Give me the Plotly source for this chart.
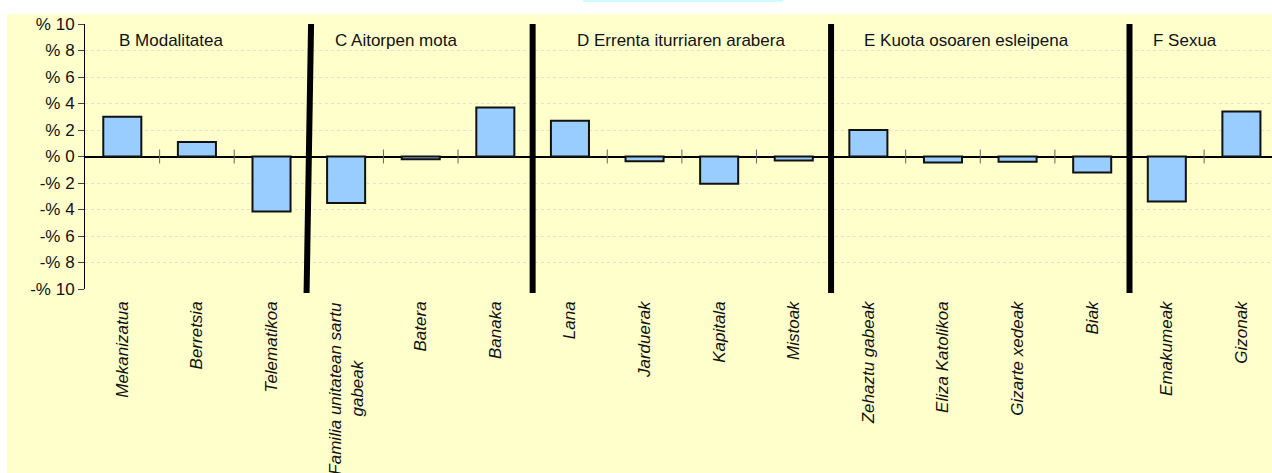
import plotly.graph_objects as go

# Categories per group and their percentage differences
categories = [
    "Mekanizatua", "Berretsia", "Telematikoa",
    "Familia unitatean sartu<br>gabeak", "Batera", "Banaka",
    "Lana", "Jarduerak", "Kapitala", "Mistoak",
    "Zehaztu gabeak", "Eliza Katolikoa", "Gizarte xedeak", "Biak",
    "Emakumeak", "Gizonak",
]
values = [3.0, 1.1, -4.15, -3.5, -0.2, 3.7, 2.7, -0.35, -2.05, -0.3,
          2.0, -0.45, -0.4, -1.2, -3.4, 3.4]

group_titles = ["B Modalitatea", "C Aitorpen mota", "D Errenta iturriaren arabera",
                "E Kuota osoaren esleipena", "F Sexua"]
group_sizes = [3, 3, 4, 4, 2]

y_ticks = list(range(-10, 11, 2))
y_tick_labels = [f"-% {abs(v)}" if v < 0 else f"% {v}" for v in y_ticks]

FONT = "Liberation Sans, Arial, sans-serif"
x_pos = list(range(len(categories)))

# group boundaries and the minor boundaries inside each group
bounds = []
minor = []
start = 0
for size in group_sizes:
    minor += [start + k + 0.5 for k in range(size - 1)]
    start += size
    bounds.append(start - 0.5)
separators = bounds[:-1]
group_starts = [-0.5] + separators

# single-line names go on the axis; wrapped names become centred annotations
tick_text = [c if "<br>" not in c else "" for c in categories]

fig = go.Figure()
fig.add_trace(go.Bar(
    x=x_pos, y=values,
    marker=dict(color="#99CCFF", line=dict(color="#111111", width=2)),
    width=0.51, hoverinfo="skip",
))
# small category tick marks crossing the zero line
fig.add_trace(go.Scatter(
    x=minor, y=[0] * len(minor), mode="markers",
    marker=dict(symbol="line-ns", size=10, line=dict(color="#666666", width=1)),
    hoverinfo="skip", cliponaxis=False,
))

shapes = [
    # yellow chart area background
    dict(type="rect", xref="paper", yref="paper", x0=-0.0657, x1=1.01, y0=-0.75, y1=1.0377,
         fillcolor="#FFFFCC", line=dict(width=0), layer="below"),
    # light strip at the top
    dict(type="rect", xref="paper", yref="paper", x0=0.4195, x1=0.588, y0=1.083, y1=1.095,
         fillcolor="#CCFFFF", line=dict(width=0), layer="below"),
]
for i, sx in enumerate(separators):
    tilt = 0.03 if i == 0 else 0.0
    shapes.append(dict(type="line", xref="x", yref="paper",
                       x0=sx - tilt, x1=sx + tilt, y0=-0.015, y1=1.0,
                       line=dict(color="black", width=6)))

offsets = [0.43, 0.32, 0.57, 0.42, 0.29]
annotations = [
    dict(x=gs + off, y=8.72, xref="x", yref="y", text=t, showarrow=False,
         xanchor="left", yanchor="middle", font=dict(family=FONT, size=17, color="#111111"))
    for gs, off, t in zip(group_starts, offsets, group_titles)
]
for xi, c in zip(x_pos, categories):
    if "<br>" in c:
        annotations.append(dict(
            x=xi, y=-0.0415, xref="x", yref="paper", text=c, showarrow=False,
            textangle=-90, align="center", xanchor="center", yanchor="top",
            font=dict(family=FONT, size=17, color="#111111", style="italic"),
        ))

fig.update_layout(
    width=1272, height=473,
    margin=dict(l=85, r=0, t=24, b=184),
    paper_bgcolor="white", plot_bgcolor="#FFFFCC",
    showlegend=False,
    shapes=shapes, annotations=annotations,
    font=dict(family=FONT, size=17, color="#111111"),
)
fig.update_xaxes(
    range=[-0.5, 15.41], tickvals=x_pos, ticktext=tick_text, tickangle=-90,
    tickfont=dict(family=FONT, size=17, style="italic"),
    showgrid=False, zeroline=False, showline=False, ticks="", automargin=False,
    ticklabelstandoff=8,
)
fig.update_yaxes(
    range=[-10, 10], tickvals=y_ticks, ticktext=y_tick_labels,
    showgrid=True, gridcolor="#E2E2D2", griddash="dot", gridwidth=1,
    zeroline=True, zerolinecolor="black", zerolinewidth=1.5,
    showline=True, linecolor="black", linewidth=1,
    ticks="outside", ticklen=6, tickcolor="#444444",
    tickfont=dict(family=FONT, size=17), automargin=False,
)

fig.write_html("out.html")
